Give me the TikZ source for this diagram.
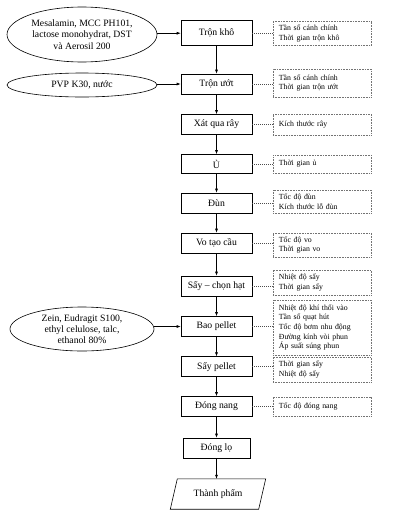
\documentclass[tikz,border=0pt]{standalone}
\usepackage{fontspec}
\setmainfont{Liberation Serif}
\usetikzlibrary{arrows.meta,shapes.geometric}
\begin{document}
\begin{tikzpicture}[x=1pt,y=-1pt,
 proc/.style={draw,line width=0.6pt,minimum width=71pt,minimum height=20pt,inner sep=1pt,font=\fontsize{9.7}{11.3}\selectfont},
 param/.style={draw=black!55,dash pattern=on 0.8pt off 0.8pt,line width=0.5pt,text width=86pt,align=left,inner xsep=6pt,inner ysep=0pt,font=\fontsize{7.8}{9.7}\selectfont,anchor=west},
 inp/.style={ellipse,draw,line width=0.6pt,align=center,inner sep=0pt,font=\fontsize{9.7}{11.3}\selectfont},
 arr/.style={-{Latex[length=4pt,width=3pt]},line width=0.6pt},
 link/.style={dash pattern=on 1pt off 1pt,line width=0.5pt,draw=black!70}
]
\useasboundingbox[fill=white] (0,0) rectangle (401,517);

% main process
\node[proc,minimum height=25pt] (tk) at (216.5,33.2) {Trộn khô};
\node[proc] (tu) at (216.5,84) {Trộn ướt};
\node[proc] (xr) at (216.5,124.5) {Xát qua rây};
\node[proc,minimum height=19pt] (u) at (216.5,164) {Ủ};
\node[proc] (dun) at (216.5,203) {Đùn};
\node[proc] (vo) at (216.5,243) {Vo tạo cầu};
\node[proc] (sc) at (216.5,286) {Sấy – chọn hạt};
\node[proc] (bp) at (216.5,326.5) {Bao pellet};
\node[proc] (sp) at (216.5,366.7) {Sấy pellet};
\node[proc] (dn) at (216.5,406.5) {Đóng nang};
\node[proc,minimum width=67pt] (dl) at (216.5,448) {Đóng lọ};
\node[minimum width=88pt,minimum height=30pt,inner sep=0pt,font=\fontsize{9.7}{11.3}\selectfont] (tp) at (218,494) {Thành phẩm};
\draw[line width=0.6pt] ([xshift=-3.5pt]tp.south west) -- ([xshift=-3.5pt]tp.south east) -- ([xshift=3.5pt]tp.north east) -- ([xshift=3.5pt]tp.north west) -- cycle;

% inputs
\node[inp,minimum width=150pt,minimum height=55pt] (e1) at (82,34.5) {Mesalamin, MCC PH101,\\lactose monohydrat, DST\\và Aerosil 200};
\node[inp,minimum width=150pt,minimum height=24pt] (e2) at (82,85) {PVP K30, nước};
\node[inp,minimum width=144pt,minimum height=44pt] (e3) at (82,329) {Zein, Eudragit S100,\\ethyl celulose, talc,\\ethanol 80\%};

% parameters
\node[param,minimum height=24pt] (p1) at (272.7,33.7) {Tần số cánh chính\\Thời gian trộn khô};
\node[param,minimum height=28pt] (p2) at (272.7,83) {Tần số cánh chính\\Thời gian trộn ướt};
\node[param,minimum height=21pt] (p3) at (272.7,124.5) {Kích thước rây};
\node[param,minimum height=18pt] (p4) at (272.7,164) {Thời gian ủ};
\node[param,minimum height=23pt] (p5) at (272.7,201.5) {Tốc độ đùn\\Kích thước lỗ đùn};
\node[param,minimum height=24pt] (p6) at (272.7,245) {Tốc độ vo\\Thời gian vo};
\node[param,minimum height=25pt] (p7) at (272.7,282.5) {Nhiệt độ sấy\\Thời gian sấy};
\node[param,minimum height=55pt] (p8) at (272.7,327.5) {Nhiệt độ khí thổi vào\\Tần số quạt hút\\Tốc độ bơm nhu động\\Đường kính vòi phun\\Áp suất súng phun};
\node[param,minimum height=25pt] (p9) at (272.7,369.5) {Thời gian sấy\\Nhiệt độ sấy};
\node[param,minimum height=19pt] (p10) at (272.7,406.5) {Tốc độ đóng nang};

% arrows between steps
\foreach \a/\b in {tk/tu,tu/xr,xr/u,u/dun,dun/vo,vo/sc,sc/bp,bp/sp,sp/dn,dn/dl,dl/tp}
  \draw[arr] (\a.south) -- (\a.south |- \b.north);

% input arrows
\draw[arr] (tk.west -| e1.east) -- (tk.west);
\draw[arr] (tu.west -| e2.east) -- (tu.west);
\draw[arr] (bp.west -| e3.east) -- (bp.west);

% parameter links
\foreach \a/\b in {tk/p1,tu/p2,xr/p3,u/p4,dun/p5,vo/p6,sc/p7,bp/p8,sp/p9,dn/p10}
  \draw[link] (\a.east) -- (\a.east -| \b.west);
\end{tikzpicture}
\end{document}
